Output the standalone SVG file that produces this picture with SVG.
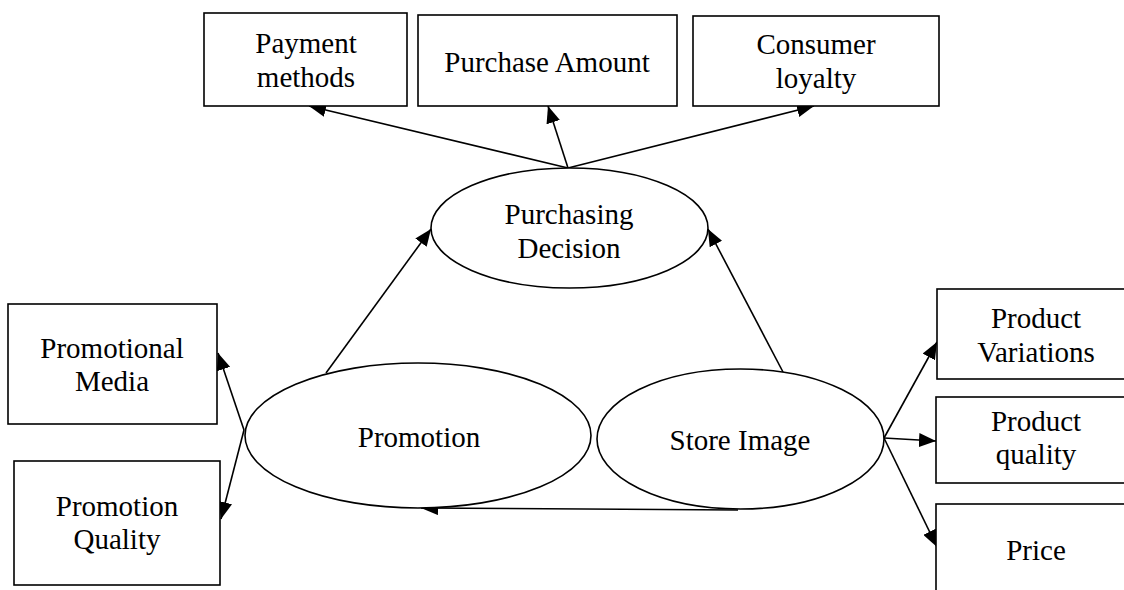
<svg xmlns="http://www.w3.org/2000/svg" width="1124" height="590" viewBox="0 0 1124 590">
<style>
.box{fill:#fff;stroke:#000;stroke-width:1.6}
.ell{fill:#fff;stroke:#000;stroke-width:1.6}
.lbl{font-family:"Liberation Serif","Times New Roman",serif;font-size:29px;fill:#000;text-anchor:middle}
.edge{stroke:#000;stroke-width:1.6;fill:none;marker-end:url(#arr)}
</style>
<defs>
<marker id="arr" markerUnits="userSpaceOnUse" markerWidth="18" markerHeight="14" refX="17" refY="7" orient="auto">
<path d="M0,0 L17,7 L0,14 z" fill="#000"/>
</marker>
</defs>
<rect width="1124" height="590" fill="#fff"/>
<g id="connectors">
<line class="edge" x1="568" y1="168" x2="309" y2="106"/>
<line class="edge" x1="568" y1="168" x2="548" y2="106"/>
<line class="edge" x1="568" y1="168" x2="814" y2="106"/>
<line class="edge" x1="326" y1="373" x2="431" y2="229"/>
<line class="edge" x1="783" y1="372" x2="708" y2="229"/>
<line class="edge" x1="244" y1="430" x2="218" y2="353"/>
<line class="edge" x1="244" y1="430" x2="221" y2="519"/>
<line class="edge" x1="884" y1="438" x2="937" y2="342"/>
<line class="edge" x1="884" y1="438" x2="936" y2="441"/>
<line class="edge" x1="884" y1="438" x2="937" y2="547"/>
<line class="edge" x1="738" y1="510" x2="421" y2="508"/>
</g>
<g id="payment">
<rect class="box" x="204" y="13" width="203" height="93"/>
<text class="lbl" x="306" y="53">Payment</text>
<text class="lbl" x="306" y="87">methods</text>
</g>
<g id="amount">
<rect class="box" x="418" y="15" width="259" height="91"/>
<text class="lbl" x="547" y="72">Purchase Amount</text>
</g>
<g id="loyalty">
<rect class="box" x="693" y="16" width="246" height="90"/>
<text class="lbl" x="816" y="54">Consumer</text>
<text class="lbl" x="816" y="88">loyalty</text>
</g>
<g id="decision">
<ellipse class="ell" cx="569.5" cy="228" rx="138.5" ry="60"/>
<text class="lbl" x="569" y="224">Purchasing</text>
<text class="lbl" x="569" y="258">Decision</text>
</g>
<g id="media">
<rect class="box" x="8" y="304" width="209" height="120"/>
<text class="lbl" x="112" y="358">Promotional</text>
<text class="lbl" x="112" y="391">Media</text>
</g>
<g id="pquality">
<rect class="box" x="14" y="461" width="206" height="124"/>
<text class="lbl" x="117" y="516">Promotion</text>
<text class="lbl" x="117" y="549">Quality</text>
</g>
<g id="promotion">
<ellipse class="ell" cx="418" cy="435.5" rx="173" ry="72.5"/>
<text class="lbl" x="419" y="447">Promotion</text>
</g>
<g id="store">
<ellipse class="ell" cx="740.5" cy="439" rx="143.5" ry="70"/>
<text class="lbl" x="740" y="450">Store Image</text>
</g>
<g id="variations">
<rect class="box" x="937" y="289" width="200" height="90"/>
<text class="lbl" x="1036" y="328">Product</text>
<text class="lbl" x="1036" y="362">Variations</text>
</g>
<g id="quality">
<rect class="box" x="936" y="397" width="200" height="86"/>
<text class="lbl" x="1036" y="431">Product</text>
<text class="lbl" x="1036" y="464">quality</text>
</g>
<g id="price">
<rect class="box" x="936" y="504" width="200" height="120"/>
<text class="lbl" x="1036" y="560">Price</text>
</g>
</svg>
